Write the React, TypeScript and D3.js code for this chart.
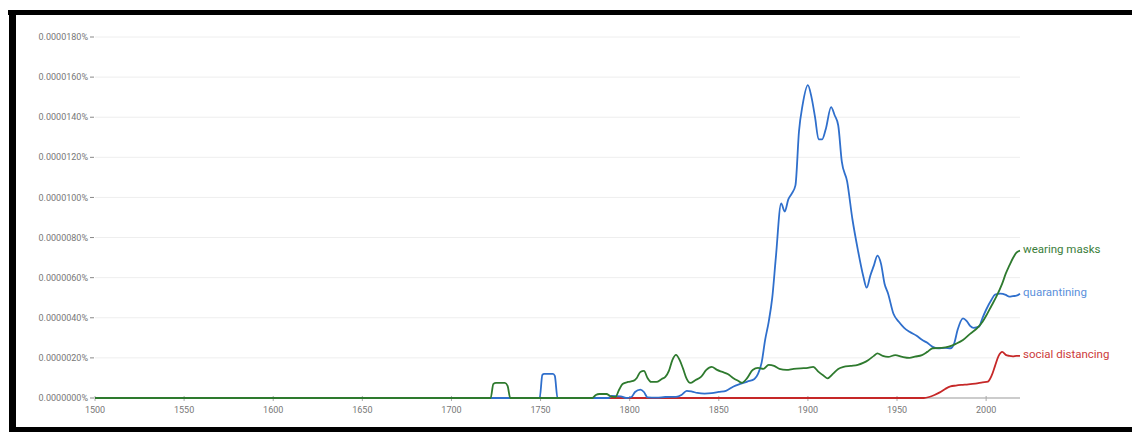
import React from "react";
import * as d3 from "d3";

// values in units of 0.000001 %
const yTicks = [0, 2, 4, 6, 8, 10, 12, 14, 16, 18];
const xTicks = [1500, 1550, 1600, 1650, 1700, 1750, 1800, 1850, 1900, 1950, 2000];

const quarantiningYears = [1500, 1749.5, 1751, 1752, 1757, 1758, 1759.5, 1788, 1790, 1795, 1798, 1801, 1803, 1806, 1808, 1810, 1815, 1820, 1826, 1829, 1832, 1835, 1838, 1842, 1846, 1850, 1854, 1858, 1862, 1866, 1870, 1872, 1874, 1876, 1878, 1880, 1882, 1885, 1887, 1889, 1891, 1893, 1895, 1897, 1900, 1902, 1904, 1906, 1908, 1910, 1913, 1915, 1917, 1919, 1922, 1925, 1928, 1931, 1933, 1935, 1937, 1939, 1941, 1943, 1945, 1948, 1951, 1954, 1957, 1961, 1964, 1967, 1970, 1973, 1977, 1980, 1982, 1984, 1987, 1989, 1991, 1993, 1996, 1998, 2000, 2003, 2005, 2008, 2011, 2013, 2015, 2017, 2019];
const quarantiningValues = [0, 0, 1.15, 1.2, 1.2, 1.1, 0, 0, 0.1, 0.08, 0, 0.05, 0.3, 0.42, 0.3, 0.03, 0.02, 0.05, 0.06, 0.15, 0.36, 0.32, 0.25, 0.22, 0.24, 0.3, 0.36, 0.56, 0.7, 0.82, 0.95, 1.2, 1.75, 2.9, 3.8, 5.0, 7.0, 9.7, 9.3, 9.9, 10.2, 10.6, 13.3, 14.6, 15.6, 15.0, 14.0, 12.9, 12.9, 13.4, 14.5, 14.1, 13.6, 11.8, 10.8, 8.9, 7.4, 6.1, 5.5, 6.1, 6.6, 7.1, 6.7, 5.7, 5.2, 4.2, 3.8, 3.5, 3.3, 3.1, 2.9, 2.75, 2.55, 2.48, 2.5, 2.48, 2.7, 3.4, 3.97, 3.85, 3.6, 3.5, 3.56, 4.0, 4.4, 4.9, 5.15, 5.2, 5.14, 5.05, 5.08, 5.1, 5.2];

const masksYears = [1500, 1722, 1723.5, 1725, 1730, 1731.5, 1733, 1779, 1781, 1783, 1787, 1789, 1792, 1794, 1796, 1799, 1802, 1804, 1806, 1808, 1810, 1812, 1815, 1818, 1820, 1822, 1824, 1826, 1828, 1830, 1832, 1834, 1837, 1840, 1843, 1846, 1849, 1852, 1855, 1858, 1861, 1863, 1866, 1869, 1872, 1875, 1878, 1881, 1884, 1888, 1892, 1896, 1900, 1903, 1906, 1909, 1911, 1914, 1917, 1920, 1924, 1928, 1931, 1934, 1937, 1939, 1942, 1945, 1949, 1953, 1957, 1960, 1964, 1967, 1970, 1975, 1979, 1983, 1987, 1991, 1995, 1998, 2000, 2003, 2006, 2009, 2011, 2013, 2015, 2017, 2019];
const masksValues = [0, 0, 0.7, 0.75, 0.75, 0.6, 0, 0, 0.15, 0.2, 0.2, 0.1, 0.05, 0.4, 0.7, 0.8, 0.85, 1.0, 1.3, 1.35, 1.0, 0.8, 0.8, 0.95, 1.05, 1.35, 1.9, 2.15, 1.9, 1.45, 0.95, 0.75, 0.9, 1.05, 1.4, 1.55, 1.4, 1.3, 1.2, 1.0, 0.85, 0.76, 1.0, 1.4, 1.5, 1.45, 1.65, 1.6, 1.45, 1.4, 1.45, 1.48, 1.5, 1.55, 1.3, 1.1, 0.98, 1.2, 1.45, 1.55, 1.6, 1.65, 1.75, 1.9, 2.1, 2.23, 2.1, 2.05, 2.14, 2.05, 2.0, 2.06, 2.14, 2.3, 2.48, 2.5, 2.56, 2.7, 2.89, 3.2, 3.48, 3.8, 4.1, 4.6, 5.1, 5.7, 6.2, 6.6, 6.97, 7.25, 7.35];

const distancingYears = [1500, 1965, 1968, 1971, 1974, 1977, 1980, 1983, 1986, 1990, 1994, 1998, 2001, 2003, 2005, 2007, 2009, 2011, 2013, 2015, 2017, 2019];
const distancingValues = [0, 0, 0.05, 0.15, 0.28, 0.45, 0.58, 0.62, 0.65, 0.68, 0.72, 0.78, 0.82, 1.1, 1.6, 2.1, 2.3, 2.15, 2.1, 2.08, 2.1, 2.1];

const seriesNames = ["social distancing", "quarantining", "wearing masks"];
const seriesColors = ["#c62828", "#2f6fcc", "#2e7a2e"];
const labelColors = ["#cc3b3b", "#5b8fdb", "#3a7d3a"];

export default function App() {
  const x = d3.scaleLinear().domain([1500, 2019]).range([95, 1020]);
  const y = d3.scaleLinear().domain([0, 18]).range([398, 37]);
  const line = d3
    .line<[number, number]>()
    .x((d) => x(d[0]))
    .y((d) => y(d[1]))
    .curve(d3.curveMonotoneX);

  const series = [
    { years: distancingYears, values: distancingValues },
    { years: quarantiningYears, values: quarantiningValues },
    { years: masksYears, values: masksValues },
  ].map((s, i) => ({
    name: seriesNames[i],
    color: seriesColors[i],
    labelColor: labelColors[i],
    pts: s.years.map((yr, j) => [yr, s.values[j]] as [number, number]),
  }));

  const fmt = (v: number) => (v * 1e-6).toFixed(7) + "%";
  const font = "Roboto, 'Liberation Sans', Arial, sans-serif";

  return (
    <svg
      width={1132}
      height={432}
      style={{ position: "absolute", left: 0, top: 0, background: "#fff" }}
    >
      {/* frame */}
      <rect x={8} y={10} width={1124} height={5} fill="#000" />
      <rect x={9} y={10} width={7} height={422} fill="#000" />
      <rect x={9} y={427} width={1123} height={5} fill="#000" />

      {/* grid */}
      {yTicks.map((t) => (
        <g key={"y" + t}>
          {t > 0 && (
            <line x1={95} x2={1020} y1={y(t)} y2={y(t)} stroke="#eeeeee" strokeWidth={1} />
          )}
          <line x1={90} x2={94} y1={y(t)} y2={y(t)} stroke="#888" strokeWidth={1} />
          <text
            x={88}
            y={y(t)}
            dy="0.35em"
            textAnchor="end"
            fontSize={9}
            fill="#777"
            fontFamily={font}
          >
            {fmt(t)}
          </text>
        </g>
      ))}
      <line x1={95} x2={1020} y1={y(0)} y2={y(0)} stroke="#999" strokeWidth={1} />
      {xTicks.map((t) => (
        <g key={"x" + t}>
          <line x1={x(t)} x2={x(t)} y1={396} y2={401} stroke="#aaa" strokeWidth={1} />
          <text
            x={x(t)}
            y={410}
            dy="0.35em"
            textAnchor="middle"
            fontSize={9}
            fill="#777"
            fontFamily={font}
          >
            {t}
          </text>
        </g>
      ))}

      {series.map((s) => (
        <path key={s.name} d={line(s.pts) || ""} fill="none" stroke={s.color} strokeWidth={1.8} />
      ))}
      {series.map((s) => {
        const last = s.pts[s.pts.length - 1];
        return (
          <text
            key={"l" + s.name}
            x={x(last[0]) + 3}
            y={y(last[1]) - 1.5}
            dy="0.35em"
            fontSize={11.5}
            fill={s.labelColor}
            fontFamily={font}
          >
            {s.name}
          </text>
        );
      })}
    </svg>
  );
}
